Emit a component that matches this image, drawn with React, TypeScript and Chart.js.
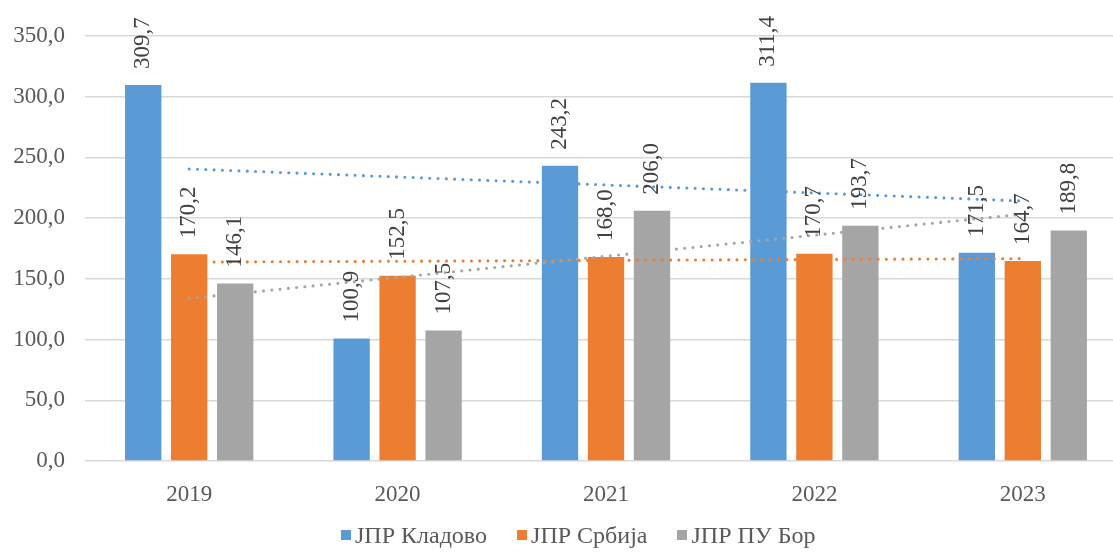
import { useEffect, useRef } from "react";
import { Chart, registerables } from "chart.js";

Chart.register(...registerables);

const years = ["2019", "2020", "2021", "2022", "2023"];
const kladovo = [309.7, 100.9, 243.2, 311.4, 171.5];
const srbija = [170.2, 152.5, 168.0, 170.7, 164.7];
const puBor = [146.1, 107.5, 206.0, 193.7, 189.8];
const seriesNames = ["ЈПР Кладово", "ЈПР Србија", "ЈПР ПУ Бор"];
const seriesColors = ["#5b9bd5", "#ed7d31", "#a5a5a5"];
const yTicks = [0, 50, 100, 150, 200, 250, 300, 350];

const FONT = "'Liberation Serif', 'Times New Roman', serif";

// linear trend (least squares), same as Excel's linear trendline
const trend = (vals: number[]) => {
    const n = vals.length;
    const mx = (n - 1) / 2;
    const my = vals.reduce((a, b) => a + b, 0) / n;
    let num = 0;
    let den = 0;
    vals.forEach((v, i) => {
        num += (i - mx) * (v - my);
        den += (i - mx) * (i - mx);
    });
    const slope = num / den;
    return vals.map((_, i) => my + slope * (i - mx));
};

const fmt = (v: number) => v.toFixed(1).replace(".", ",");

const barLabels = {
    id: "barLabels",
    afterDatasetsDraw(chart: Chart) {
        const ctx = chart.ctx;
        ctx.save();
        ctx.font = `23px ${FONT}`;
        ctx.fillStyle = "#404040";
        ctx.textAlign = "left";
        ctx.textBaseline = "middle";
        chart.data.datasets.forEach((ds: any, i: number) => {
            if (ds.type !== "bar") return;
            const meta = chart.getDatasetMeta(i);
            meta.data.forEach((bar: any, j: number) => {
                ctx.save();
                ctx.translate(bar.x, bar.y - 16);
                ctx.rotate(-Math.PI / 2);
                ctx.fillText(fmt(ds.data[j] as number), 0, 0);
                ctx.restore();
            });
        });
        ctx.restore();
    },
};

const ChartBox = () => {
    const canvasRef = useRef<HTMLCanvasElement>(null);

    useEffect(() => {
        if (!canvasRef.current) return;
        const allSeries = [kladovo, srbija, puBor];

        const chart = new Chart(canvasRef.current, {
            type: "bar",
            data: {
                labels: years,
                datasets: [
                    ...allSeries.map((vals, i) => ({
                        type: "bar" as const,
                        label: seriesNames[i],
                        data: vals,
                        backgroundColor: seriesColors[i],
                        borderWidth: 0,
                        categoryPercentage: 0.662,
                        barPercentage: 0.79,
                        order: 1,
                    })),
                    ...allSeries.map((vals, i) => ({
                        type: "line" as const,
                        label: seriesNames[i] + " trend",
                        data: trend(vals),
                        borderColor: seriesColors[i],
                        borderWidth: 3.1,
                        borderDash: [0, 8.3],
                        borderCapStyle: "round" as const,
                        pointRadius: 0,
                        fill: false,
                        order: 0,
                    })),
                ],
            },
            options: {
                animation: false,
                responsive: false,
                maintainAspectRatio: false,
                layout: { padding: { top: 36, left: 0, right: 0, bottom: 0 } },
                plugins: {
                    legend: { display: false },
                    tooltip: { enabled: false },
                },
                scales: {
                    x: {
                        grid: { display: false },
                        border: { display: false },
                        ticks: {
                            color: "#595959",
                            font: { family: FONT, size: 23 },
                            padding: 12,
                        },
                        afterFit: (s: any) => {
                            s.height = 92;
                        },
                    },
                    y: {
                        min: 0,
                        max: 350,
                        afterBuildTicks: (s: any) => {
                            s.ticks = yTicks.map((v) => ({ value: v }));
                        },
                        grid: { color: "#d9d9d9", lineWidth: 1.4, drawTicks: false },
                        border: { display: false },
                        ticks: {
                            color: "#595959",
                            font: { family: FONT, size: 23 },
                            padding: 20,
                            callback: (v: any) => fmt(Number(v)),
                        },
                        afterFit: (s: any) => {
                            s.width = 85;
                        },
                    },
                },
            },
            plugins: [barLabels],
        });

        return () => {
            chart.destroy();
        };
    }, []);

    return (
        <div
            style={{
                position: "fixed",
                left: 0,
                top: 0,
                width: 1113,
                height: 553,
                overflow: "hidden",
                background: "#fff",
            }}
        >
            <canvas ref={canvasRef} width={1127} height={553} style={{ width: 1127, height: 553 }} />
            <div
                style={{
                    position: "absolute",
                    left: 341,
                    top: 523,
                    display: "flex",
                    alignItems: "center",
                    fontFamily: FONT,
                    fontSize: 24,
                    lineHeight: "24px",
                    color: "#595959",
                    whiteSpace: "nowrap",
                }}
            >
                {seriesNames.map((name, i) => (
                    <div key={name} style={{ display: "flex", alignItems: "center", marginRight: 30 }}>
                        <span
                            style={{
                                display: "inline-block",
                                width: 10,
                                height: 10,
                                background: seriesColors[i],
                                marginRight: 4,
                            }}
                        />
                        <span>{name}</span>
                    </div>
                ))}
            </div>
        </div>
    );
};

export default function App() {
    return <ChartBox />;
}
